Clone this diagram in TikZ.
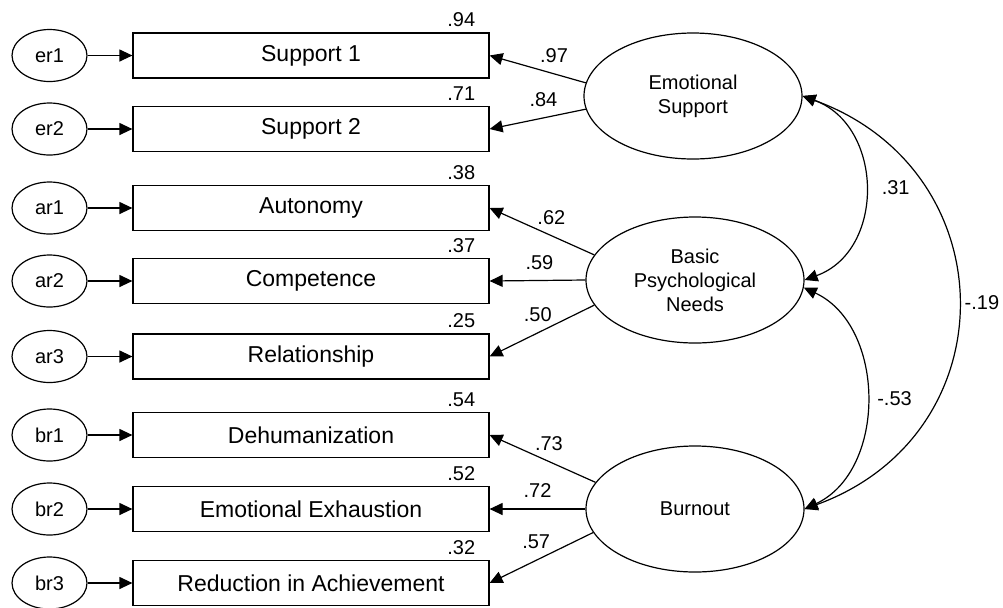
\documentclass[tikz,border=0pt]{standalone}
\usepackage{fontspec}
\setmainfont{Liberation Sans}
\usepackage{tikz}
\usetikzlibrary{arrows.meta,positioning,shapes.geometric}

\begin{document}
\begin{tikzpicture}[
    x=0.5pt, y=-0.5pt,
    >={Triangle[length=6.5pt,width=6pt]},
    lnk/.style = {line width=0.6pt},
    obs/.style = {draw,line width=0.6pt,rectangle,minimum width=178pt,minimum height=22.5pt,
      inner sep=0pt,font=\fontsize{11.5}{13}\selectfont},
    res/.style = {draw,line width=0.6pt,ellipse,minimum width=37.5pt,minimum height=26pt,inner sep=0pt},
    lat/.style = {draw,line width=0.6pt,ellipse,minimum width=109pt,minimum height=63pt,
      inner sep=0pt,align=center,font=\fontsize{10}{12}\selectfont}
    ]
    \useasboundingbox (0,0) rectangle (1003,607);
    % Indicators, residuals and R^2
    \foreach \name/\y/\txt/\err/\rsq in {s1/55.5/Support 1/er1/.94, s2/129/Support 2/er2/.71,
        a1/208/Autonomy/ar1/.38, a2/281/Competence/ar2/.37, a3/356.5/Relationship/ar3/.25,
        b1/435/Dehumanization/br1/.54, b2/509/Emotional Exhaustion/br2/.52,
        b3/583/Reduction in Achievement/br3/.32} {
      \node[obs] (\name) at (311,\y) {\txt};
      \node[res] (\err) at (49.5,\y) {\err};
      \draw[lnk,->] (\err) -- (\name);
      \node[anchor=south east,inner sep=2.5pt,xshift=-4.5pt] (r-\name) at (\name.north east) {\rsq};
    }
    % Latent variables
    \node[lat] (es) at (693,96) {Emotional\\Support};
    \node[lat] (bpn) at (695,280) {Basic\\Psychological\\Needs};
    \node[lat] (bo) at (695,509) {Burnout};
    % Loadings
    \foreach \lv/\ang/\ind/\val/\p in {es/173/s1/.97/.33, es/187/s2/.84/.44,
        bpn/166/a1/.62/.41, bpn/180/a2/.59/.48, bpn/194/a3/.50/.54,
        bo/165/b1/.73/.44, bo/180/b2/.72/.5, bo/193/b3/.57/.55}
      \draw[lnk,->] (\lv.\ang) -- node[pos=\p,above=2pt] (l-\ind) {\val} (\ind.east);
    % Correlations
    \draw[lnk,<->] (es.east) to[out=-20,in=20,looseness=1.2] node[right=5pt] (c1) {.31} (bpn.east);
    \draw[lnk,<->] (bpn.-4) to[out=-25,in=25,looseness=1.05] node[right=2pt] (c2) {-.53} (bo.east);
    \draw[lnk,<->] (es.east) to[out=-20,in=20,looseness=1.35] node[right] (c3) {-.19} (bo.east);
\end{tikzpicture}
\end{document}
